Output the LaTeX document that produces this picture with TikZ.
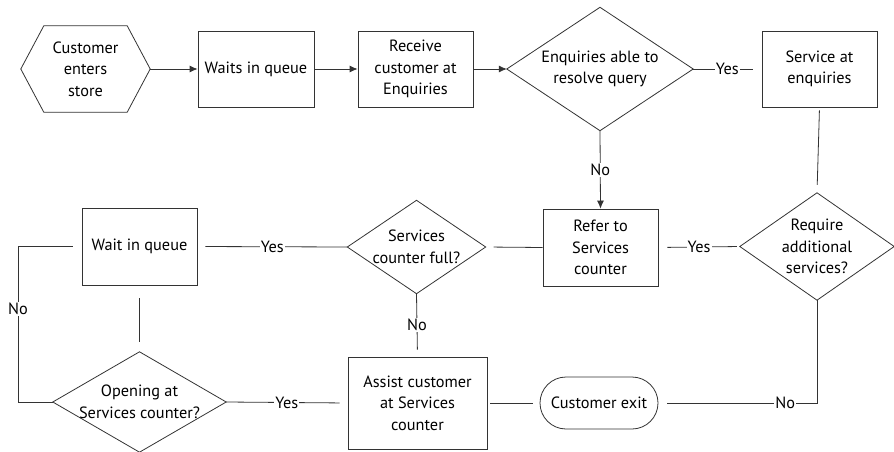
\documentclass[tikz,border=0pt]{standalone}
\usepackage{fontspec}
\setmainfont{PT Sans}
\usetikzlibrary{shapes.geometric,arrows.meta}
\begin{document}
\begin{tikzpicture}[x=1pt,y=-1pt,
  every node/.style={font=\fontsize{16.3}{21.5}\selectfont, text=black},
  proc/.style={rectangle, draw=black!80, line width=0.8pt, align=center, inner sep=0pt},
  dec/.style={rectangle, align=center, inner sep=0pt},
  term/.style={rectangle, rounded corners=26pt, draw=black!80, line width=0.8pt, align=center, inner sep=0pt},
  conn/.style={draw=black!80, line width=0.8pt},
  arr/.style={conn, -{Latex[length=8pt,width=7pt]}},
  lbl/.style={fill=white, inner sep=1pt}
]
\useasboundingbox (0,0) rectangle (894,452);

% start hexagon
\node[align=center, inner sep=0pt, minimum width=129pt, minimum height=86pt] (start) at (85.5,69) {Customer\\enters\\store};
\draw[conn] (start.west) -- ([xshift=23pt]start.north west) -- ([xshift=-23pt]start.north east) -- (start.east) -- ([xshift=-23pt]start.south east) -- ([xshift=23pt]start.south west) -- cycle;

\node[proc, minimum width=116pt, minimum height=76pt] (wait1) at (256,69) {Waits in queue};
\node[proc, minimum width=115pt, minimum height=76pt] (receive) at (415.5,69) {Receive\\customer at\\Enquiries};
\node[dec, minimum width=186pt, minimum height=123pt] (d1) at (600,69) {Enquiries able to\\resolve query};
\node[proc, minimum width=115pt, minimum height=76pt] (service) at (819.5,69) {Service at\\enquiries};

\node[proc, minimum width=115pt, minimum height=77pt] (refer) at (600.5,247.5) {Refer to\\Services\\counter};
\node[dec, minimum width=154pt, minimum height=107pt] (require) at (817,246.5) {Require\\additional\\services?};
\node[dec, minimum width=138pt, minimum height=93pt] (sfull) at (416.5,247) {Services\\counter full?};
\node[proc, minimum width=115pt, minimum height=77pt] (wait2) at (139.5,246.5) {Wait in queue};

\node[dec, minimum width=173pt, minimum height=100pt] (opening) at (139.5,402) {Opening at\\Services counter?};
\node[proc, minimum width=139pt, minimum height=92pt] (assist) at (417.5,403) {Assist customer\\at Services\\counter};
\node[term, minimum width=118pt, minimum height=52pt] (exit) at (599,403) {Customer exit};

% diamond outlines
\foreach \n in {d1,require,sfull,opening}
  \draw[conn] (\n.north) -- (\n.east) -- (\n.south) -- (\n.west) -- cycle;

\coordinate (lc) at (18,402);

% connectors
\draw[arr] (start.east) -- (wait1.west);
\draw[arr] (wait1.east) -- (receive.west);
\draw[arr] (receive.east) -- (d1.west);
\draw[conn, shorten >=9pt] (d1.east) -- node[lbl]{Yes} (service.west);
\draw[arr] (d1.south) -- node[lbl]{No} (refer.north);
\draw[conn, shorten <=3pt, shorten >=8pt] (service.south) -- (require.north);
\draw[conn, shorten <=9pt, shorten >=3pt] (refer.east) -- node[lbl]{Yes} (require.west);
\draw[conn, shorten >=9pt] (require.south) |- node[lbl, pos=0.6]{No} (exit.east);
\draw[conn, shorten <=3pt, shorten >=7pt] (assist.east) -- (exit.west);
\draw[conn, shorten >=8pt] (refer.west) -- (sfull.east);
\draw[conn, shorten >=8pt] (sfull.west) -- node[lbl]{Yes} (wait2.east);
\draw[conn, shorten >=7pt] (sfull.south) -- node[lbl]{No} (assist.north);
\draw[conn, shorten >=8pt] (opening.east) -- node[lbl]{Yes} (assist.west);
\draw[conn, shorten <=10pt, shorten >=13pt] (opening.north) -- (wait2.south);
\draw[conn, shorten >=9pt] (opening.west) -- (lc) |- node[lbl, pos=0.3]{No} (wait2.west);
\end{tikzpicture}
\end{document}
